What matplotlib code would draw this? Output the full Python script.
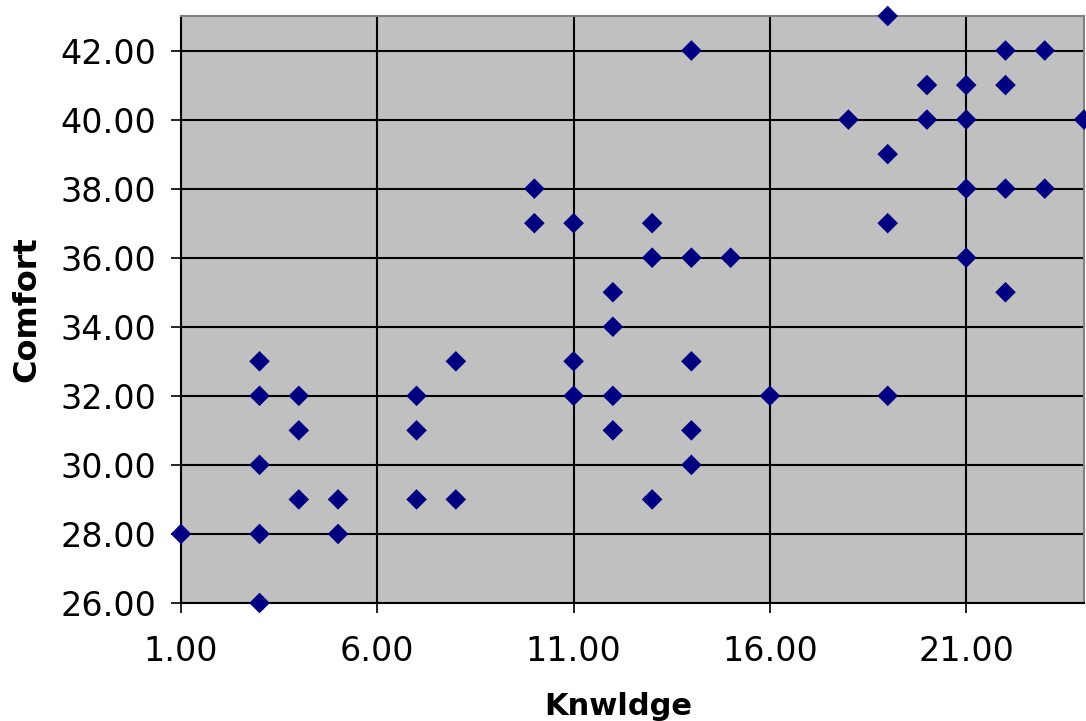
import matplotlib
matplotlib.use("Agg")
import matplotlib.pyplot as plt

# Knowledge score vs. comfort score
knwldge = [1, 3, 3, 3, 3, 3, 4, 4, 4, 5, 5, 7, 7, 7, 8, 8,
           10, 10, 11, 11, 11, 12, 12, 12, 12, 13, 13, 13,
           14, 14, 14, 14, 14, 15, 16, 18, 19, 19, 19, 19,
           20, 20, 21, 21, 21, 21, 22, 22, 22, 22, 23, 23, 24]
comfort = [28, 33, 32, 30, 28, 26, 32, 31, 29, 29, 28, 32, 31, 29, 33, 29,
           38, 37, 37, 33, 32, 35, 34, 32, 31, 37, 36, 29,
           42, 36, 33, 31, 30, 36, 32, 40, 43, 39, 37, 32,
           41, 40, 41, 40, 38, 36, 42, 41, 38, 35, 42, 38, 40]

x_ticks = [1, 6, 11, 16, 21]
y_ticks = [26, 28, 30, 32, 34, 36, 38, 40, 42]

plt.rcParams['font.family'] = ['DejaVu Sans']

fig = plt.figure(figsize=(10.86, 7.21), dpi=100)
ax = fig.add_axes([181 / 1086, 118 / 721, 903 / 1086, 587 / 721])
ax.set_facecolor('#C0C0C0')

ax.scatter(knwldge, comfort, marker='D', s=110, color='#000080',
           edgecolors='none', zorder=5, clip_on=False)

ax.set_xlim(1, 24)
ax.set_ylim(26, 43)
ax.set_xticks(x_ticks)
ax.set_yticks(y_ticks)
ax.set_xticklabels([f"{v:.2f}" for v in x_ticks])
ax.set_yticklabels([f"{v:.2f}" for v in y_ticks])

ax.grid(True, color='black', linewidth=1.5)
ax.set_axisbelow(True)

for side in ('left', 'bottom'):
    ax.spines[side].set_color('black')
    ax.spines[side].set_linewidth(1.5)
for side in ('top', 'right'):
    ax.spines[side].set_color('#808080')
    ax.spines[side].set_linewidth(1.5)

ax.tick_params(direction='out', length=7, width=1.2, color='black',
               labelsize=24)
ax.tick_params(axis='y', pad=11)
ax.tick_params(axis='x', pad=16)

ax.set_xlabel('Knwldge', fontsize=22, fontweight='bold')
ax.xaxis.set_label_coords(0.484, -0.152)
ax.set_ylabel('Comfort', fontsize=23, fontweight='bold', labelpad=13)

fig.savefig('out.png', dpi=100)
